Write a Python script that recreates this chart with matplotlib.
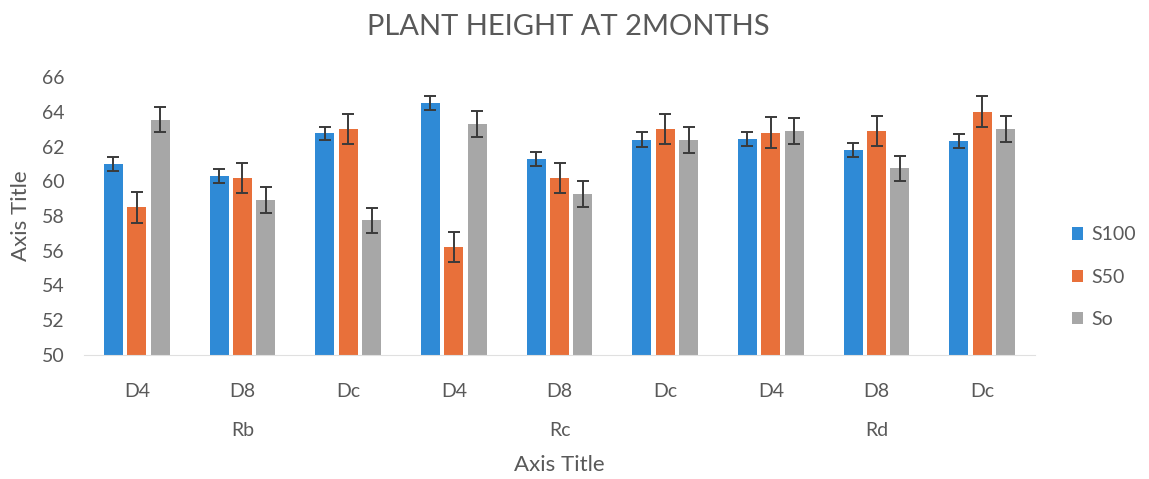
import numpy as np
import matplotlib.pyplot as plt
import matplotlib as mpl
from matplotlib.transforms import blended_transform_factory

# datos
subcats = ['D4', 'D8', 'Dc', 'D4', 'D8', 'Dc', 'D4', 'D8', 'Dc']
groups = ['Rb', 'Rc', 'Rd']
series = ['S100', 'S50', 'So']

s100 = [61.0, 60.3, 62.75, 64.5, 61.3, 62.4, 62.45, 61.8, 62.3]
s50 = [58.5, 60.2, 63.0, 56.2, 60.2, 63.0, 62.8, 62.9, 64.0]
so = [63.55, 58.9, 57.75, 63.3, 59.25, 62.4, 62.9, 60.75, 63.0]

err_s100 = [0.4, 0.42, 0.4, 0.41, 0.41, 0.42, 0.41, 0.41, 0.41]
err_s50 = [0.88, 0.87, 0.87, 0.87, 0.87, 0.87, 0.89, 0.88, 0.9]
err_so = [0.72, 0.75, 0.73, 0.74, 0.74, 0.75, 0.73, 0.73, 0.75]

colores = ['#2f8ad6', '#e8703a', '#a7a7a7']
texto = '#595959'

mpl.rcParams.update({'font.family': ['Lato', 'DejaVu Sans'], 'text.color': texto})

fig = plt.figure(figsize=(11.49, 4.79), dpi=100)
ax = fig.add_axes([0.0731, 0.2589, 0.8277, 0.5803])

x = np.arange(len(subcats))
paso, ancho = 0.222, 0.18
valores = [s100, s50, so]
errores = [err_s100, err_s50, err_so]
for k in range(3):
    ax.bar(x + (k - 1) * paso, valores[k], width=ancho, color=colores[k], label=series[k],
           yerr=errores[k], capsize=4.5,
           error_kw={'ecolor': '#3a3a3a', 'elinewidth': 1.4, 'capthick': 1.4}, zorder=2)

ax.set_ylim(50, 66)
ax.set_xlim(-0.5, len(subcats) - 0.5)
ax.set_yticks(np.arange(50, 67, 2))
ax.tick_params(axis='y', length=0, labelsize=14, labelcolor=texto, pad=14)
ax.set_xticks(x)
ax.set_xticklabels(subcats)
ax.tick_params(axis='x', length=0, labelsize=14, labelcolor=texto, pad=20)
for s in ['top', 'right', 'left']:
    ax.spines[s].set_visible(False)
ax.spines['bottom'].set_color('#e0e0e0')

# segundo nivel de categorias
tr = blended_transform_factory(ax.transData, fig.transFigure)
for g, nombre in enumerate(groups):
    ax.text(3 * g + 1, 1 - 430 / 479, nombre, transform=tr, ha='center', va='center',
            fontsize=14, color=texto)

ax.set_ylabel('Axis Title', fontsize=16, color=texto, labelpad=8)
fig.text(0.0731 + 0.8277 / 2, 1 - 465 / 479, 'Axis Title', ha='center', va='center',
         fontsize=16, color=texto)
fig.text(0.495, 1 - 27 / 479, 'PLANT HEIGHT AT 2MONTHS', ha='center', va='center',
         fontsize=21, color=texto)

ax.legend(loc='center left', bbox_to_anchor=(1.02, 0.28), frameon=False, fontsize=14,
          handlelength=0.6, handleheight=0.6, handletextpad=0.4, labelspacing=1.3)

plt.savefig('out.png', dpi=100)
